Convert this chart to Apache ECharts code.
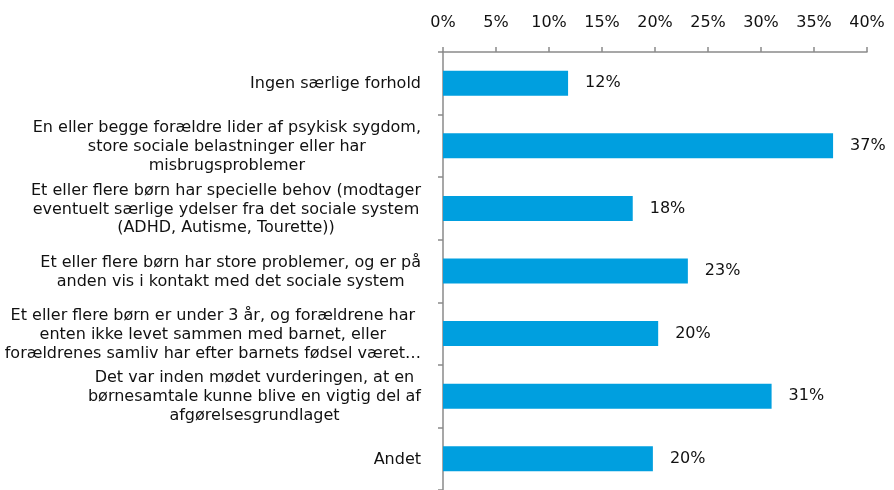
<!DOCTYPE html>
<html>
<head>
<meta charset="utf-8">
<script src="https://cdn.jsdelivr.net/npm/echarts@6/dist/echarts.min.js"></script>
<style>
  html, body { margin: 0; padding: 0; background: #fff; }
  #chart { width: 894px; height: 490px; }
</style>
</head>
<body>
<div id="chart"></div>
<script>
// kategorier (linjeskift som i originalen)
const categories = [
  'Ingen særlige forhold',
  'En eller begge forældre lider af psykisk sygdom,\nstore sociale belastninger eller har\nmisbrugsproblemer',
  'Et eller flere børn har specielle behov (modtager\neventuelt særlige ydelser fra det sociale system\n(ADHD, Autisme, Tourette))',
  'Et eller flere børn har store problemer, og er på\nanden vis i kontakt med det sociale system',
  'Et eller flere børn er under 3 år, og forældrene har\nenten ikke levet sammen med barnet, eller\nforældrenes samliv har efter barnets fødsel været…',
  'Det var inden mødet vurderingen, at en\nbørnesamtale kunne blive en vigtig del af\nafgørelsesgrundlaget',
  'Andet'
];
// andel i procent
const shares = [11.8, 36.8, 17.9, 23.1, 20.3, 31.0, 19.8];
const axisMax = 40;
const axisStep = 5;

const FONT = '"DejaVu Sans", Verdana, sans-serif';
const chart = echarts.init(document.getElementById('chart'));

chart.setOption({
  animation: false,
  textStyle: { fontFamily: FONT },
  grid: { left: 443, right: 27, top: 52, bottom: -4, containLabel: false },
  xAxis: {
    type: 'value',
    position: 'top',
    min: 0,
    max: axisMax,
    interval: axisStep,
    axisLine: { show: true, lineStyle: { color: '#8a8a8a', width: 1.5 } },
    axisTick: { show: true, length: 5, lineStyle: { color: '#8a8a8a', width: 1.5 } },
    splitLine: { show: false },
    axisLabel: {
      margin: 21,
      color: '#111',
      fontFamily: FONT,
      fontSize: 16,
      formatter: '{value}%'
    }
  },
  yAxis: {
    type: 'category',
    inverse: true,
    data: categories,
    axisLine: { show: true, lineStyle: { color: '#8a8a8a', width: 1.5 } },
    axisTick: { show: true, length: 5, lineStyle: { color: '#8a8a8a', width: 1.5 } },
    axisLabel: {
      margin: 22,
      color: '#111',
      fontFamily: FONT,
      fontSize: 16,
      lineHeight: 18.8,
      formatter: v => v.split('\n').map(l => '{c|' + l + '}').join('\n'),
      rich: {
        c: { align: 'center', fontFamily: FONT, fontSize: 16, lineHeight: 18.8, color: '#111', padding: [2, 0, 0, 0] }
      }
    }
  },
  series: [{
    type: 'bar',
    data: shares,
    barWidth: 25,
    itemStyle: { color: '#009fdf' },
    label: {
      show: true,
      position: 'right',
      distance: 17,
      color: '#111',
      fontFamily: FONT,
      fontSize: 16,
      formatter: p => Math.round(p.value) + '%'
    }
  }]
});
</script>
</body>
</html>
